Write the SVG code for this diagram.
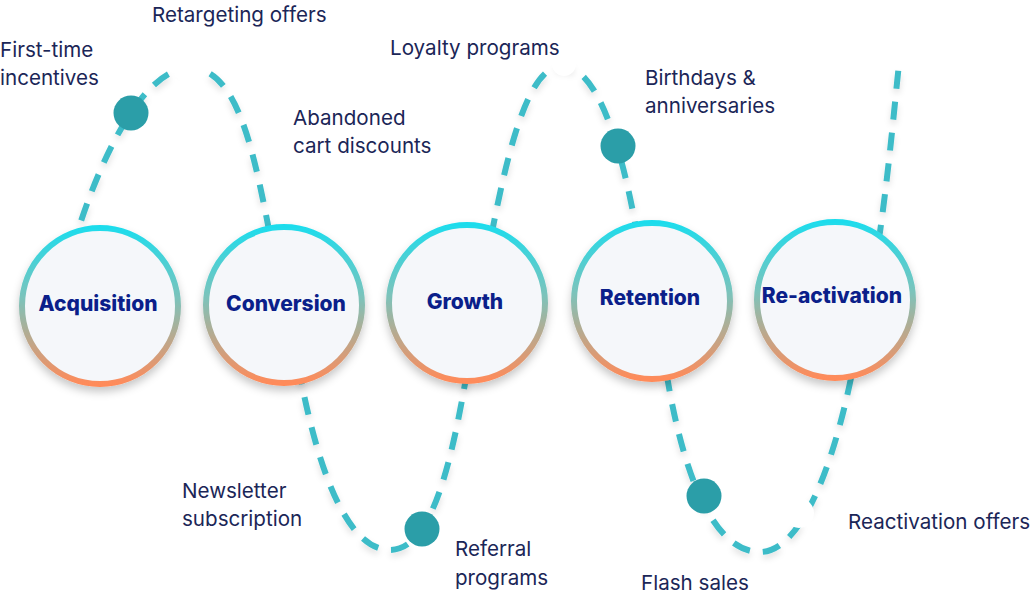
<svg xmlns="http://www.w3.org/2000/svg" width="1032" height="596" viewBox="0 0 1032 596">
<style>
.lbl{font-family:Inter,"Noto Sans","Liberation Sans",sans-serif;font-size:20.6px;fill:#1b2657}
.stage{font-family:Inter,"Liberation Sans",sans-serif;font-size:21px;font-weight:800;fill:#0b1f8a;text-anchor:middle}
.ring{fill:#f5f7fa;stroke:url(#rg);stroke-width:6;filter:url(#sh)}
.dot{fill:#2b9ea8}
.mask{fill:#ffffff}
.wave{fill:none;stroke:#3dbcc8;stroke-width:6;stroke-dasharray:18 13;stroke-linecap:butt}
</style>
<defs>
<linearGradient id="rg" x1="0" y1="0" x2="0" y2="1">
<stop offset="0" stop-color="#1edcec"/>
<stop offset="0.45" stop-color="#7cc3bb"/>
<stop offset="1" stop-color="#ff8b5a"/>
</linearGradient>
<filter id="sh" x="-30%" y="-30%" width="160%" height="170%">
<feDropShadow dx="0" dy="5" stdDeviation="4" flood-color="#000" flood-opacity="0.22"/>
</filter>
<filter id="ws" x="-10%" y="-10%" width="120%" height="130%">
<feDropShadow dx="0" dy="4" stdDeviation="3" flood-color="#000" flood-opacity="0.12"/>
</filter>
</defs>
<g id="connectors">
<path class="wave" filter="url(#ws)" d="M 72,250 C 95,170 140,68 190,68 C 240,68 255,160 272,245 L 300,375 C 320,480 350,550 390,550 C 430,550 450,470 466,378 L 492,232 C 510,140 530,66 562,66 C 596,66 620,140 636,228 L 668,382 C 685,480 715,552 760,552 C 800,552 832,470 851,378 L 880,232 C 890,160 895,100 899,64"/>
</g>
<g id="masks">
<circle class="mask" cx="190" cy="68" r="17"/>
<circle class="mask" cx="564" cy="64" r="12"/>
<circle class="mask" cx="799" cy="513" r="15"/>
</g>
<g id="dots">
<circle class="dot" cx="131" cy="113" r="17.5"/>
<circle class="dot" cx="422" cy="529" r="17.5"/>
<circle class="dot" cx="618" cy="146" r="17.5"/>
<circle class="dot" cx="704" cy="496" r="17.5"/>
</g>
<g id="acquisition">
<circle class="ring" cx="100" cy="306" r="78"/>
<text class="stage" x="98" y="311">Acquisition</text>
</g>
<g id="conversion">
<circle class="ring" cx="284" cy="305" r="78"/>
<text class="stage" x="286" y="311">Conversion</text>
</g>
<g id="growth">
<circle class="ring" cx="467" cy="303" r="78"/>
<text class="stage" x="465" y="309">Growth</text>
</g>
<g id="retention">
<circle class="ring" cx="652" cy="301" r="78"/>
<text class="stage" x="650" y="305">Retention</text>
</g>
<g id="reactivation">
<circle class="ring" cx="835" cy="300" r="78"/>
<text class="stage" x="832" y="303">Re-activation</text>
</g>
<g id="labels">
<text class="lbl" x="152" y="22">Retargeting offers</text>
<text class="lbl" x="0" y="57">First-time</text>
<text class="lbl" x="0" y="85">incentives</text>
<text class="lbl" x="293" y="125">Abandoned</text>
<text class="lbl" x="293" y="153">cart discounts</text>
<text class="lbl" x="390" y="55">Loyalty programs</text>
<text class="lbl" x="645" y="85">Birthdays &amp;</text>
<text class="lbl" x="645" y="113">anniversaries</text>
<text class="lbl" x="182" y="498">Newsletter</text>
<text class="lbl" x="182" y="526">subscription</text>
<text class="lbl" x="455" y="556">Referral</text>
<text class="lbl" x="455" y="585">programs</text>
<text class="lbl" x="641" y="590">Flash sales</text>
<text class="lbl" x="848" y="529">Reactivation offers</text>
</g>
</svg>
